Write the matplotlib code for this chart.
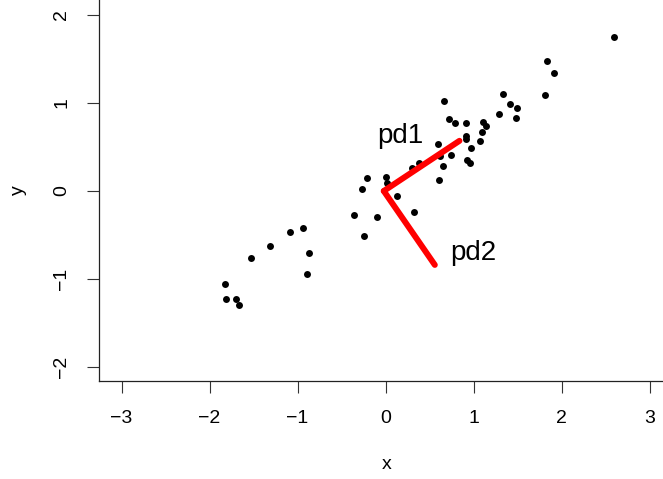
import numpy as np
import matplotlib
matplotlib.use("Agg")
import matplotlib.pyplot as plt

plt.rcParams['font.family'] = ['Liberation Sans', 'DejaVu Sans']

# scatter data
x = [-0.355, -0.097, -0.241, -0.938, -1.085, -1.309, -1.532, -0.873, -0.895,
     -1.820, -1.813, -1.702, -1.668,
     -0.214, 0.006, 0.014, -0.270, 0.125, 0.324, 0.298, 0.381, 0.611, 0.657,
     0.622, 0.743, 0.592, 0.930, 0.955, 0.968, 1.074, 0.911, 0.918, 1.093,
     1.142, 1.111, 0.911, 0.790, 0.722, 0.663, 1.286, 1.330, 1.420, 1.494,
     1.483, 1.813, 1.835, 1.918, 2.600]
y = [-0.269, -0.295, -0.511, -0.424, -0.463, -0.625, -0.758, -0.708, -0.947,
     -1.057, -1.224, -1.227, -1.299,
     0.151, 0.156, 0.094, 0.017, -0.053, -0.242, 0.258, 0.314, 0.123, 0.281,
     0.398, 0.409, 0.534, 0.356, 0.316, 0.483, 0.566, 0.625, 0.589, 0.674,
     0.736, 0.781, 0.769, 0.776, 0.816, 1.020, 0.872, 1.102, 0.985, 0.943,
     0.830, 1.094, 1.481, 1.337, 1.747]

# principal directions drawn from the centre
center = (-0.02, 0.0)
pd1 = (0.86, 0.57)
pd2 = (0.58, -0.84)
pd1_lab = (0.17, 0.542)
pd2_lab = (0.995, -0.78)

fig = plt.figure(figsize=(6.63, 4.79), dpi=100)
ax = fig.add_axes([99 / 663, 98 / 479, 564 / 663, 381 / 479])

ax.plot(x, y, 'o', color='black', ms=5, mew=0)

ax.plot([center[0], center[0] + pd1[0]], [center[1], center[1] + pd1[1]],
        color='red', lw=4.3, solid_capstyle='round')
ax.plot([center[0], center[0] + pd2[0]], [center[1], center[1] + pd2[1]],
        color='red', lw=4.3, solid_capstyle='round')
ax.text(pd1_lab[0], pd1_lab[1], 'pd1', fontsize=20, ha='center', va='baseline')
ax.text(pd2_lab[0], pd2_lab[1], 'pd2', fontsize=20, ha='center', va='baseline')

ax.set_xlim(-3.256, 3.153)
ax.set_ylim(-2.159, 2.170)
ax.set_xticks([-3, -2, -1, 0, 1, 2, 3])
ax.set_yticks([-2, -1, 0, 1, 2])
ax.set_xticklabels(['\u22123', '\u22122', '\u22121', '0', '1', '2', '3'])
ax.set_yticklabels(['\u22122', '\u22121', '0', '1', '2'], rotation=90, va='center')

for s in ['top', 'right']:
    ax.spines[s].set_visible(False)
for s in ['left', 'bottom']:
    ax.spines[s].set_linewidth(0.9)
    ax.spines[s].set_color('#222222')
ax.tick_params(length=8.6, width=0.8, color='#333333', labelsize=14, pad=12)

ax.set_xlabel('x', fontsize=14, va='center')
ax.xaxis.set_label_coords(0.51, -0.22)
ax.set_ylabel('y', fontsize=14, va='center')
ax.yaxis.set_label_coords(-0.143, 0.5)

fig.savefig('out.png', dpi=100)
